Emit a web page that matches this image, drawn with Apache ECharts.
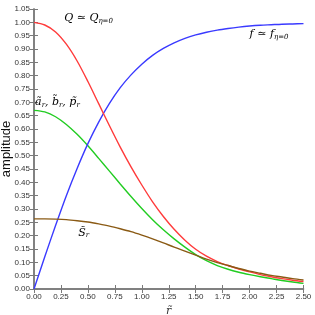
<!DOCTYPE html>
<html><head><meta charset="utf-8">
<script src="https://cdn.jsdelivr.net/npm/echarts@6/dist/echarts.min.js"></script>
<style>html,body{margin:0;padding:0;background:#fff}#c{width:315px;height:315px}</style>
</head><body><div id="c"></div>
<script>
const rValues = [0,0.1,0.2,0.3,0.4,0.5,0.6,0.7,0.8,0.9,1.0,1.1,1.2,1.3,1.4,1.5,1.6,1.7,1.8,1.9,2.0,2.1,2.2,2.3,2.4,2.5];
const fValues = [0,0.121,0.238,0.35,0.452,0.545,0.626,0.696,0.755,0.803,0.843,0.876,0.902,0.923,0.94,0.953,0.963,0.971,0.977,0.982,0.986,0.989,0.991,0.993,0.994,0.995];
const qValues = [1.0,0.99,0.964,0.918,0.855,0.778,0.695,0.612,0.532,0.458,0.39,0.327,0.272,0.224,0.183,0.149,0.123,0.103,0.088,0.075,0.064,0.054,0.046,0.039,0.033,0.028];
const abpValues = [0.670,0.664,0.646,0.617,0.58,0.537,0.49,0.442,0.394,0.347,0.302,0.26,0.222,0.188,0.157,0.129,0.106,0.088,0.074,0.063,0.054,0.046,0.039,0.032,0.026,0.021];
const sValues = [0.263,0.263,0.262,0.26,0.256,0.251,0.244,0.236,0.226,0.215,0.202,0.188,0.173,0.157,0.142,0.127,0.112,0.099,0.088,0.077,0.067,0.059,0.051,0.045,0.039,0.034];
const xTicks = {min:0, max:2.5, interval:0.25};
const yTicks = {min:0, max:1.05, interval:0.05};

const chart = echarts.init(document.getElementById('c'));
const pairs = v => rValues.map((x,i)=>[x,v[i]]);
const axisLine = {show:true, lineStyle:{color:'#7a7a7a', width:1.5}};
const tick = {show:true, inside:true, length:4, lineStyle:{color:'#7a7a7a', width:1}};
const lbl = {color:'#333', fontSize:8, fontFamily:'Liberation Sans, Arial, sans-serif', formatter:v=>v.toFixed(2), margin:4};
const line = (name,v,color,z) => ({name, type:'line', data:pairs(v), smooth:0.3, symbol:'none', z, lineStyle:{color, width:1.4}, xAxisIndex:0, yAxisIndex:0});
const serif = 'DejaVu Serif, Liberation Serif, serif';
chart.setOption({
  animation:false,
  grid:{left:34, right:11.5, top:9, bottom:26, show:false, outerBoundsMode:'none', containLabel:false},
  xAxis:[
    {type:'value', ...xTicks, axisLine, axisTick:tick, axisLabel:lbl, splitLine:{show:false},
     name:'r\u0303', nameLocation:'middle', nameGap:17, nameMoveOverlap:false, nameTextStyle:{fontFamily:serif, fontStyle:'italic', fontSize:11, color:'#333'}},
    {type:'value', position:'top', ...xTicks, axisLine, axisTick:tick, axisLabel:{show:false}, splitLine:{show:false}}
  ],
  yAxis:[
    {type:'value', ...yTicks, axisLine, axisTick:tick, axisLabel:lbl, splitLine:{show:false},
     name:'amplitude', nameLocation:'middle', nameGap:21, nameMoveOverlap:false, nameTextStyle:{fontFamily:'Liberation Sans, Arial, sans-serif', fontSize:13, color:'#111'}},
    {type:'value', position:'right', ...yTicks, axisLine, axisTick:tick, axisLabel:{show:false}, splitLine:{show:false}}
  ],
  series:[
    line('f', fValues, '#3a3aff', 3),
    line('Q', qValues, '#ff3b3b', 4),
    line('abp', abpValues, '#22cc22', 2),
    line('S', sValues, '#8a5a14', 5)
  ]
});

const labels = [
  {pos:[0.28,1.015], rich:[['Q \u2243 Q','m'],['\u03b7=0','s']], align:'left'},
  {pos:[2.0,0.955], rich:[['f \u2243 f','m'],['\u03b7=0','s']], align:'left'},
  {pos:[0.01,0.70], rich:[['a\u0303','m'],['r','s'],[', b\u0303','m'],['r','s'],[', p\u0303','m'],['r','s']], align:'left'},
  {pos:[0.41,0.21], rich:[['S\u0303','m'],['r','s']], align:'left'}
];
const richStyles = {
  m:{fontFamily:serif, fontStyle:'italic', fontSize:11, color:'#333'},
  s:{fontFamily:serif, fontStyle:'italic', fontSize:7, color:'#333', padding:[5,0,0,0]}
};
chart.setOption({graphic:labels.map(l=>{
  const p = chart.convertToPixel({xAxisIndex:0, yAxisIndex:0}, l.pos);
  return {type:'text', x:p[0], y:p[1], z:10, style:{
    text:l.rich.map(t=>'{'+t[1]+'|'+t[0]+'}').join(''),
    rich:richStyles, align:l.align, verticalAlign:'middle'}};
})});
</script></body></html>
